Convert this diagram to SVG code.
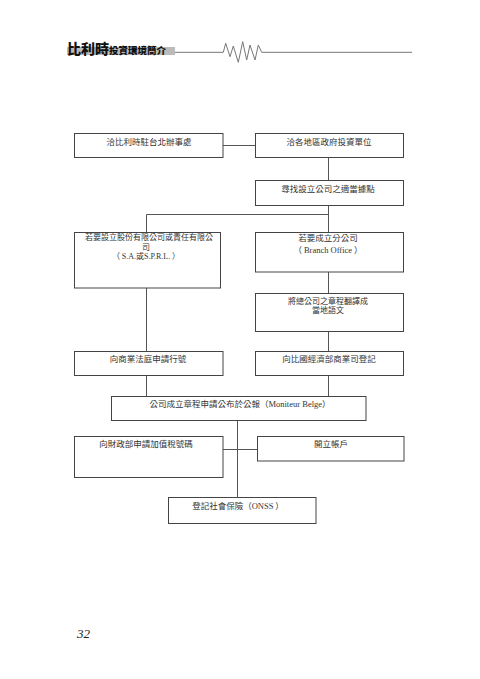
<svg xmlns="http://www.w3.org/2000/svg" width="480" height="679" viewBox="0 0 480 679">
<style>
.box{fill:#fff;stroke:#444;stroke-width:1}
.ln{fill:none;stroke:#555;stroke-width:1}
.t{font-family:"Noto Sans CJK TC","Noto Sans CJK SC",sans-serif;font-size:8.5px;fill:#333;text-anchor:middle}
.s{font-size:8px}
.l{font-family:"Liberation Serif",serif}
</style>
<rect width="480" height="679" fill="#fff"/>
<g id="header">
<rect x="67" y="47" width="108" height="8" fill="#bbb"/>
<text x="67" y="54" font-family="Noto Sans CJK TC,sans-serif" font-weight="900" font-size="14" fill="#111">比利時<tspan font-size="9.5">投資環境簡介</tspan></text>
<polyline class="ln" points="175,52.3 223.3,52.3 225.7,43.3 230,56.7 233.3,46 238.3,62.3 242.7,41.7 246.7,60 250,45 255,60 258.3,45 261.7,52.3 412,52.3" style="stroke:#777"/>
</g>
<g id="connectors">
<line class="ln" x1="223" y1="145.5" x2="255" y2="145.5"/>
<line class="ln" x1="328.5" y1="157" x2="328.5" y2="180"/>
<polyline class="ln" points="328.5,205 328.5,214.5 146.5,214.5 146.5,232"/>
<line class="ln" x1="328.5" y1="214" x2="328.5" y2="232"/>
<line class="ln" x1="328.5" y1="272" x2="328.5" y2="293"/>
<line class="ln" x1="328.5" y1="331" x2="328.5" y2="351"/>
<line class="ln" x1="146.5" y1="288" x2="146.5" y2="351"/>
<line class="ln" x1="146.5" y1="375" x2="146.5" y2="396"/>
<line class="ln" x1="328.5" y1="375" x2="328.5" y2="396"/>
<line class="ln" x1="237.5" y1="420" x2="237.5" y2="497"/>
<line class="ln" x1="223" y1="449.5" x2="257" y2="449.5"/>
</g>
<g id="n1"><rect class="box" x="74.5" y="133.5" width="148.5" height="24"/><text class="t" x="149" y="145">洽比利時駐台北辦事處</text></g>
<g id="n2"><rect class="box" x="255.5" y="133.5" width="148" height="24"/><text class="t" x="329" y="145">洽各地區政府投資單位</text></g>
<g id="n3"><rect class="box" x="255.5" y="180.5" width="148" height="25"/><text class="t" x="328" y="192">尋找設立公司之適當據點</text></g>
<g id="n4"><rect class="box" x="74.5" y="232.5" width="146" height="55.5"/><text class="t s" x="149" y="240">若要設立股份有限公司或責任有限公</text><text class="t s" x="146" y="249.5">司</text><text class="t s" x="146" y="259">（ <tspan class="l">S.A.</tspan>或<tspan class="l">S.P.R.L.</tspan> ）</text></g>
<g id="n5"><rect class="box" x="255.5" y="232.5" width="148" height="39.5"/><text class="t" x="328" y="241">若要成立分公司</text><text class="t" x="328" y="253">（ <tspan class="l">Branch Office</tspan> ）</text></g>
<g id="n6"><rect class="box" x="255.5" y="293.5" width="148" height="38"/><text class="t s" x="328" y="303.5">將總公司之章程翻譯成</text><text class="t s" x="328" y="313">當地語文</text></g>
<g id="n7"><rect class="box" x="74.5" y="351.5" width="148.5" height="24"/><text class="t" x="148" y="362">向商業法庭申請行號</text></g>
<g id="n8"><rect class="box" x="255.5" y="351.5" width="148" height="24"/><text class="t" x="329" y="362">向比國經濟部商業司登記</text></g>
<g id="n9"><rect class="box" x="111.5" y="396.5" width="254.5" height="24"/><text class="t" x="240" y="407">公司成立章程申請公布於公報（<tspan class="l">Moniteur Belge</tspan>）</text></g>
<g id="n10"><rect class="box" x="74.5" y="436.5" width="148.5" height="41"/><text class="t" x="146" y="447">向財政部申請加值稅號碼</text></g>
<g id="n11"><rect class="box" x="257.5" y="436.5" width="146.5" height="24.5"/><text class="t" x="331" y="447">開立帳戶</text></g>
<g id="n12"><rect class="box" x="168.5" y="497.5" width="147.5" height="26"/><text class="t" x="238" y="509">登記社會保險（<tspan class="l">ONSS</tspan> ）</text></g>
<text x="77" y="638" font-family="Liberation Serif,serif" font-style="italic" font-size="13" fill="#222">32</text>
</svg>
